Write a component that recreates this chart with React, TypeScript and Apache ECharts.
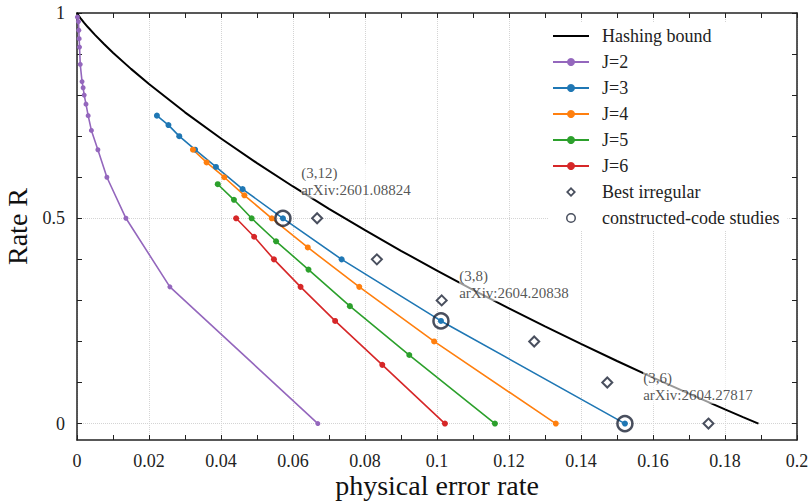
import React, { useEffect, useRef } from "react";
import * as echarts from "echarts";

const FONT = "'Liberation Serif', 'Times New Roman', serif";

// Hashing bound
const hashP = [0, 0.0005, 0.001, 0.002, 0.003, 0.005, 0.0075, 0.01, 0.015, 0.02, 0.03, 0.04, 0.05, 0.06, 0.07, 0.08, 0.09, 0.1, 0.11, 0.12, 0.13, 0.14, 0.15, 0.16, 0.17, 0.18, 0.185, 0.1893];
const hashR = [1, 0.993, 0.987, 0.976, 0.9658, 0.9467, 0.9244, 0.9034, 0.8639, 0.8269, 0.7581, 0.6943, 0.6344, 0.5775, 0.5231, 0.471, 0.4209, 0.3725, 0.3257, 0.2804, 0.2365, 0.1939, 0.1524, 0.1121, 0.0729, 0.0346, 0.0159, 0];

const j2P = [0.0001, 0.0004, 0.0005, 0.0006, 0.0007, 0.0009, 0.0014, 0.0017, 0.002, 0.0025, 0.0031, 0.004, 0.0058, 0.0083, 0.0136, 0.0258, 0.0669];
const j2R = [0.99, 0.979, 0.958, 0.9375, 0.917, 0.875, 0.833, 0.818, 0.8, 0.778, 0.75, 0.714, 0.667, 0.6, 0.5, 0.333, 0];

const j3P = [0.0222, 0.0254, 0.0284, 0.0328, 0.0386, 0.046, 0.0572, 0.0735, 0.1011, 0.1522];
const j3R = [0.75, 0.727, 0.7, 0.667, 0.625, 0.571, 0.5, 0.4, 0.25, 0];

const j4P = [0.0322, 0.036, 0.0409, 0.0465, 0.0541, 0.0641, 0.0784, 0.0992, 0.133];
const j4R = [0.667, 0.636, 0.6, 0.556, 0.5, 0.429, 0.333, 0.2, 0];

const j5P = [0.0391, 0.0436, 0.0485, 0.0553, 0.0643, 0.0758, 0.0923, 0.1161];
const j5R = [0.583, 0.545, 0.5, 0.444, 0.375, 0.286, 0.167, 0];

const j6P = [0.0442, 0.0492, 0.0547, 0.0621, 0.0717, 0.0848, 0.1022];
const j6R = [0.5, 0.455, 0.4, 0.333, 0.25, 0.143, 0];

const irrP = [0.0667, 0.0833, 0.1013, 0.127, 0.1473, 0.1754];
const irrR = [0.5, 0.4, 0.3, 0.2, 0.1, 0];

const ccP = [0.0572, 0.1011, 0.1522];
const ccR = [0.5, 0.25, 0];
const ccLabels = ["(3,12)\narXiv:2601.08824", "(3,8)\narXiv:2604.20838", "(3,6)\narXiv:2604.27817"];

const yTicks = [0, 0.1, 0.2, 0.3, 0.4, 0.5, 0.6, 0.7, 0.8, 0.9, 1];
const yLabels = [0, 0.5, 1];
const yGrid = [0, 0.5];

const jNames = ["J=2", "J=3", "J=4", "J=5", "J=6"];
const jColors = ["#9467bd", "#1f77b4", "#ff7f0e", "#2ca02c", "#d62728"];
const jP = [j2P, j3P, j4P, j5P, j6P];
const jR = [j2R, j3R, j4R, j5R, j6R];

const MARK = "#1b2336";
const diamondIcon = "path://M5,0L10,5L5,10L0,5Z M5,2.5L2.5,5L5,7.5L7.5,5Z";
const ringIcon = "path://M6,0A6,6 0 1,1 6,12A6,6 0 1,1 6,0Z M6,1.8A4.2,4.2 0 1,0 6,10.2A4.2,4.2 0 1,0 6,1.8Z";

const zip = (a: number[], b: number[]) => a.map((v, i) => [v, b[i]]);

export default function App() {
  const ref = useRef<HTMLDivElement>(null);
  useEffect(() => {
    const chart = echarts.init(ref.current!, null, { renderer: "svg" });
    const axisColor = "#222";
    const gridLine = { color: "#d4d4d4", type: "dotted" as const, width: 1 };
    const xBase = {
      type: "value" as const,
      min: 0,
      max: 0.2,
      interval: 0.02,
      axisLine: { show: true, onZero: false, lineStyle: { color: axisColor, width: 1.5 } },
      axisTick: { show: true, inside: true, length: 5, lineStyle: { color: axisColor } },
      minorTick: { show: true, splitNumber: 2, length: 5, lineStyle: { color: axisColor } },
    };
    const yBase = {
      type: "value" as const,
      min: -0.04,
      max: 1,
      axisLine: { show: true, onZero: false, lineStyle: { color: axisColor, width: 1.5 } },
      axisTick: { show: true, inside: true, length: 5, customValues: yTicks, lineStyle: { color: axisColor } },
      splitLine: { show: false },
    };
    const option: any = {
      animation: false,
      backgroundColor: "#fff",
      grid: { left: 77, right: 15, top: 13, bottom: 61, outerBoundsMode: "none", containLabel: false },
      legend: {
        orient: "vertical",
        left: 548,
        top: 23,
        itemWidth: 36,
        itemHeight: 10,
        itemGap: 8,
        padding: [4, 8, 4, 4],
        backgroundColor: "#fff",
        symbolKeepAspect: true,
        textStyle: { fontFamily: FONT, fontSize: 18, color: "#222", padding: [0, 0, 0, 8] },
        data: [
          { name: "Hashing bound", itemStyle: { opacity: 0 } },
          ...jNames,
          { name: "Best irregular", icon: diamondIcon, itemStyle: { color: MARK, borderWidth: 0 } },
          { name: "constructed-code studies", icon: ringIcon, itemStyle: { color: MARK, borderWidth: 0 } },
        ],
      },
      xAxis: [
        {
          ...xBase,
          position: "bottom",
          name: "physical error rate",
          nameLocation: "middle",
          nameGap: 31,
          nameMoveOverlap: false,
          nameTextStyle: { fontFamily: FONT, fontSize: 28, color: "#111" },
          axisLabel: { fontFamily: FONT, fontSize: 18, color: "#222", margin: 12 },
          splitLine: { show: true, lineStyle: gridLine },
        },
        {
          ...xBase,
          position: "top",
          axisLabel: { show: false },
          splitLine: { show: false },
        },
      ],
      yAxis: [
        {
          ...yBase,
          position: "left",
          name: "Rate R",
          nameLocation: "middle",
          nameGap: 31,
          nameRotate: 90,
          nameTextStyle: { fontFamily: FONT, fontSize: 28, color: "#111" },
          axisLabel: { customValues: yLabels, fontFamily: FONT, fontSize: 18, color: "#222", margin: 12 },
        },
        {
          ...yBase,
          position: "right",
          axisLabel: { show: false },
        },
      ],
      series: [
        {
          name: "Hashing bound",
          type: "line",
          symbol: "none",
          data: zip(hashP, hashR),
          lineStyle: { color: "#000", width: 2 },
          itemStyle: { color: "#000" },
          z: 2,
          markLine: {
            silent: true,
            symbol: "none",
            label: { show: false },
            lineStyle: gridLine,
            data: yGrid.map((v) => ({ yAxis: v })),
            z: 0,
          },
        },
        ...jNames.map((n, i) => ({
          name: n,
          type: "line",
          symbol: "circle",
          symbolSize: i === 0 ? 5 : 6,
          data: zip(jP[i], jR[i]),
          lineStyle: { color: jColors[i], width: 1.6 },
          itemStyle: { color: jColors[i] },
          z: 3,
        })),
        {
          name: "Best irregular",
          type: "scatter",
          symbol: "diamond",
          symbolSize: 10,
          data: zip(irrP, irrR),
          itemStyle: { color: "#fff", borderColor: MARK, borderWidth: 2 },
          z: 4,
        },
        {
          name: "constructed-code studies",
          type: "scatter",
          symbol: "circle",
          symbolSize: 15,
          data: ccP.map((p, i) => ({ value: [p, ccR[i]], name: ccLabels[i] })),
          itemStyle: { color: "rgba(0,0,0,0)", borderColor: MARK, borderWidth: 2.5 },
          label: {
            show: true,
            formatter: "{b}",
            position: [27, -45],
            align: "left",
            verticalAlign: "top",
            fontFamily: FONT,
            fontSize: 15,
            lineHeight: 17,
            color: "#2a2a2a",
            backgroundColor: "rgba(255,255,255,0.75)",
          },
          z: 5,
        },
      ],
    };
    chart.setOption(option);
    return () => chart.dispose();
  }, []);
  return <div ref={ref} style={{ position: "fixed", left: 0, top: 0, width: 812, height: 501 }} />;
}
